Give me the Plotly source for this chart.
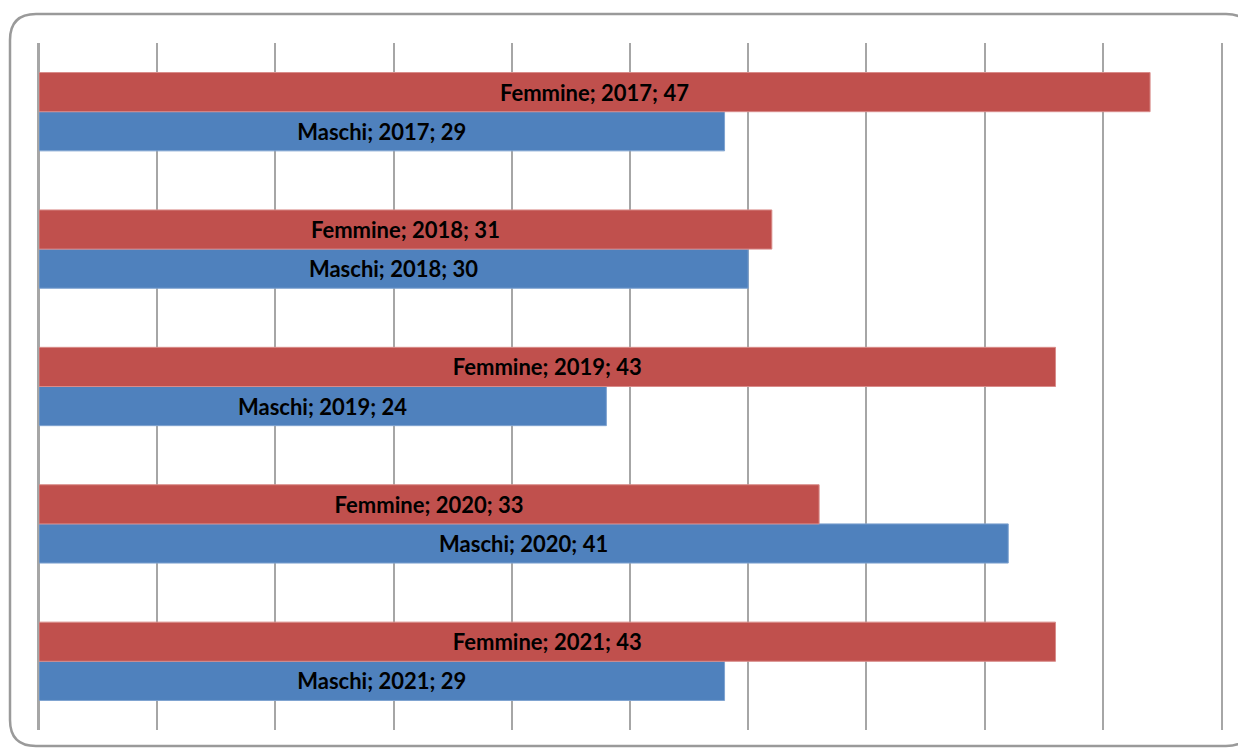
import plotly.graph_objects as go

years = ["2017", "2018", "2019", "2020", "2021"]
femmine = [47, 31, 43, 33, 43]
maschi = [29, 30, 24, 41, 29]

W, H = 1238, 749
ml, mr, mt, mb = 39, 17, 43, 19
pw, ph = W - ml - mr, H - mt - mb

FONT = dict(family="Lato", size=22, color="black", weight="bold")

fig = go.Figure()
fig.add_trace(go.Bar(
    name="Maschi", y=years, x=maschi, orientation="h",
    marker=dict(color="#4F81BD", line=dict(color="#7FA3D0", width=1)),
    text=[f"Maschi; {y}; {v}" for y, v in zip(years, maschi)],
    textposition="inside", insidetextanchor="middle",
    textfont=FONT, textangle=0, hoverinfo="skip",
))
fig.add_trace(go.Bar(
    name="Femmine", y=years, x=femmine, orientation="h",
    marker=dict(color="#C0504D", line=dict(color="#D98C8A", width=1)),
    text=[f"Femmine; {y}; {v}" for y, v in zip(years, femmine)],
    textposition="inside", insidetextanchor="middle",
    textfont=FONT, textangle=0, hoverinfo="skip",
))

# rounded border
x0 = (10 - ml) / pw
x1 = (1252 - ml) / pw
y1 = 1 + (mt - 14) / ph
y0 = -(746 - (H - mb)) / ph
rx = 26 / pw
ry = 26 / ph
path = (f"M {x0+rx},{y1} L {x1-rx},{y1} Q {x1},{y1} {x1},{y1-ry} "
        f"L {x1},{y0+ry} Q {x1},{y0} {x1-rx},{y0} L {x0+rx},{y0} "
        f"Q {x0},{y0} {x0},{y0+ry} L {x0},{y1-ry} Q {x0},{y1} {x0+rx},{y1} Z")

fig.update_layout(
    width=W, height=H,
    margin=dict(l=ml, r=mr, t=mt, b=mb),
    paper_bgcolor="white", plot_bgcolor="white",
    barmode="group", bargap=0.43, bargroupgap=0,
    showlegend=False,
    xaxis=dict(range=[0, 50], dtick=5, tick0=0, showticklabels=False,
               showgrid=True, gridcolor="#A6A6A6", gridwidth=1.5,
               zeroline=True, zerolinecolor="#A6A6A6", zerolinewidth=1.5,
               showline=False, ticks=""),
    yaxis=dict(type="category", categoryorder="array",
               categoryarray=years[::-1], showticklabels=False,
               showgrid=False, zeroline=False, ticks="",
               showline=True, mirror=True, linecolor="#A6A6A6", linewidth=1.5),
    shapes=[dict(type="path", xref="paper", yref="paper", path=path,
                 line=dict(color="#9A9A9A", width=2.5), layer="above")],
)

fig.write_html("out.html", config={"displayModeBar": False},
               post_script="document.body.style.margin='0';document.body.style.overflow='hidden';")
